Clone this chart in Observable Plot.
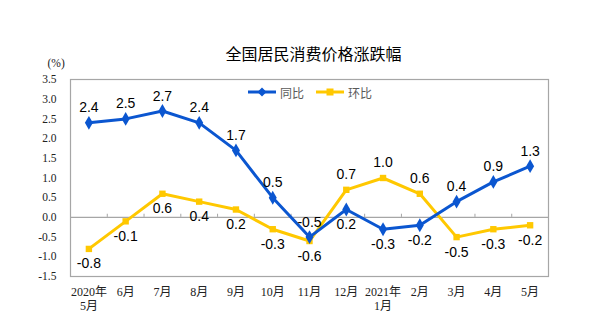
<!DOCTYPE html>
<html>
<head>
<meta charset="utf-8">
<script src="https://cdn.jsdelivr.net/npm/d3@7"></script>
<script src="https://cdn.jsdelivr.net/npm/@observablehq/plot@0.6"></script>
<style>
  body { margin: 0; background: #fff; }
  #wrap { position: relative; width: 600px; height: 332px; }
  .leg { position: absolute; top: 84px; font: 12px "Noto Sans CJK SC", sans-serif; color: #595959; display: flex; align-items: center; height: 16px; }
</style>
</head>
<body>
<div id="wrap"></div>
<script>
const months = ["2020年\n5月", "6月", "7月", "8月", "9月", "10月", "11月", "12月", "2021年\n1月", "2月", "3月", "4月", "5月"];
const yoy = [2.4, 2.5, 2.7, 2.4, 1.7, 0.5, -0.5, 0.2, -0.3, -0.2, 0.4, 0.9, 1.3];
const mom = [-0.8, -0.1, 0.6, 0.4, 0.2, -0.3, -0.6, 0.7, 1.0, 0.6, -0.5, -0.3, -0.2];
const yTicks = [-1.5, -1, -0.5, 0, 0.5, 1, 1.5, 2, 2.5, 3, 3.5];
const seriesNames = ["同比", "环比"];
const colors = ["#0b56d0", "#ffc800"];

const idx = months.map((_, i) => i);
const rows = [];
idx.forEach(i => {
  rows.push({i, v: yoy[i], s: seriesNames[0], above: yoy[i] >= mom[i]});
  rows.push({i, v: mom[i], s: seriesNames[1], above: mom[i] > yoy[i]});
});
const yoyRows = rows.filter(d => d.s === seriesNames[0]);
const momRows = rows.filter(d => d.s === seriesNames[1]);
const boundaries = idx.slice(0, -1).map(i => i + 0.5);
const fmt = d => d.toFixed(1);
const serif = "'Liberation Serif', 'Times New Roman', 'Noto Sans CJK SC', serif";
const sans = "'Liberation Sans', Arial, 'Noto Sans CJK SC', sans-serif";

const chart = Plot.plot({
  width: 600,
  height: 332,
  marginLeft: 70,
  marginRight: 52,
  marginTop: 79,
  marginBottom: 56,
  style: { fontFamily: serif, background: "#fff", overflow: "visible" },
  x: { domain: [-0.5, 12.5] },
  y: { domain: [-1.5, 3.5] },
  marks: [
    Plot.frame({ stroke: "#a6a6a6", strokeWidth: 1.2 }),
    Plot.axisY({ ticks: yTicks, tickFormat: fmt, tickSize: 0, tickPadding: 14, fontSize: 11.5, fill: "#222", fontFamily: serif, label: null }),
    Plot.axisX({ ticks: idx, tickFormat: i => months[i], tickSize: 0, tickPadding: 9, fontSize: 12, lineHeight: 1.2, fill: "#222", fontFamily: serif, label: null }),
    Plot.ruleY([0], { stroke: "#a6a6a6", strokeWidth: 1.2 }),
    Plot.ruleX(boundaries, { x: d => d, y1: 0, y2: 0.08, stroke: "#a6a6a6", strokeWidth: 1 }),
    Plot.line(momRows, { x: "i", y: "v", stroke: colors[1], strokeWidth: 3 }),
    Plot.line(yoyRows, { x: "i", y: "v", stroke: colors[0], strokeWidth: 3 }),
    Plot.dot(momRows, { x: "i", y: "v", symbol: "square", r: 3.6, fill: colors[1] }),
    Plot.dot(yoyRows, { x: "i", y: "v", symbol: "diamond", r: 4.2, fill: colors[0] }),
    Plot.text(rows.filter(d => d.above), { x: "i", y: "v", text: d => fmt(d.v), dy: -15, fontSize: 14, fontFamily: sans, fill: "#000" }),
    Plot.text(rows.filter(d => !d.above), { x: "i", y: "v", text: d => fmt(d.v), dy: 15, fontSize: 14, fontFamily: sans, fill: "#000" }),
    Plot.text(["全国居民消费价格涨跌幅"], { frameAnchor: "top", dx: 4, dy: -31, fontSize: 16, fontFamily: "'Noto Sans CJK SC', sans-serif", fill: "#000" }),
    Plot.text(["(%)"], { frameAnchor: "top-left", dx: -23, dy: -21, fontSize: 11.5, fontFamily: serif, fill: "#222" })
  ]
});

const wrap = document.getElementById("wrap");
wrap.appendChild(chart);

function legendItem(left, color, symbol, label) {
  const div = document.createElement("div");
  div.className = "leg";
  div.style.left = left + "px";
  const mark = symbol === "diamond"
    ? `<path d="M14,-4.5 L18.5,0 L14,4.5 L9.5,0Z" fill="${color}"/>`
    : `<rect x="10.5" y="-3.5" width="7" height="7" fill="${color}"/>`;
  div.innerHTML = `<svg width="29" height="16" viewBox="0 -8 29 16" style="display:block"><line x1="0" x2="28" y1="0" y2="0" stroke="${color}" stroke-width="3"/>${mark}</svg><span style="margin-left:3px">${label}</span>`;
  wrap.appendChild(div);
}
legendItem(248, colors[0], "diamond", seriesNames[0]);
legendItem(316, colors[1], "square", seriesNames[1]);
</script>
</body>
</html>
